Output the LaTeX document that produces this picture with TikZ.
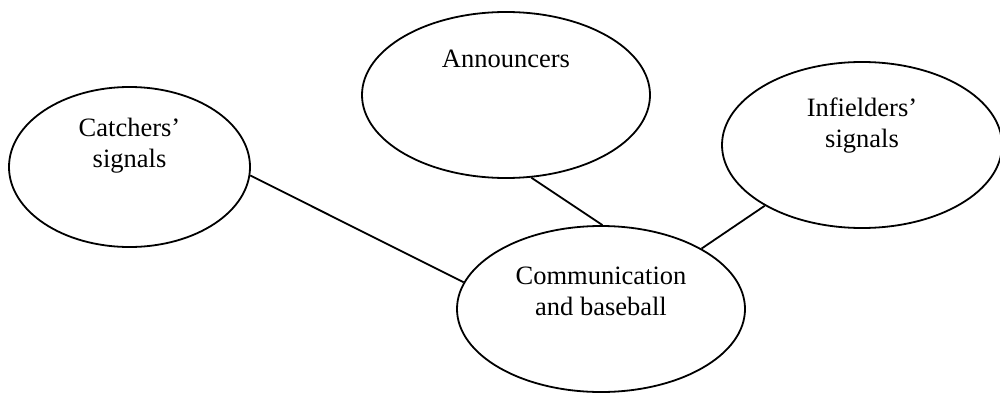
\documentclass[tikz,border=0pt]{standalone}
\usepackage{fontspec}
\setmainfont{Liberation Serif}
\usetikzlibrary{shapes.geometric}

\tikzset{
  bubble/.style={draw, ellipse, line width=1.8pt, inner sep=0pt},
  tag/.style={anchor=base, align=center, inner sep=0pt,
    font={\fontsize{26.5}{31}\selectfont}},
  link/.style={line width=1.8pt}
}

\begin{document}
\begin{tikzpicture}[x=1pt,y=1pt]
      \useasboundingbox (0,0) rectangle (1000,392);

      \node[bubble, minimum width=241pt, minimum height=160pt] (catcher) at (129.5,225) {};
      \node[bubble, minimum width=288pt, minimum height=166pt] (announce) at (506,297) {};
      \node[bubble, minimum width=280pt, minimum height=166pt] (infield) at (862,247) {};
      \node[bubble, minimum width=288pt, minimum height=166pt] (comm) at (601,83) {};

      % last line sits on the anchor
      \node[tag] at (catcher.center) {Catchers’\\signals};
      \node[tag] at ([yshift=28pt]announce.center) {Announcers};
      \node[tag] at ([yshift=-2pt]infield.center) {Infielders’\\signals};
      \node[tag] at ([yshift=-6pt]comm.center) {Communication\\and baseball};

      \draw[link] (catcher.-4.3) -- (comm.169.2);
      \draw[link] (announce.-73.9) -- (comm.89.3);
      \draw[link] (infield.212.2) -- (comm.31);
  \end{tikzpicture}
\end{document}
